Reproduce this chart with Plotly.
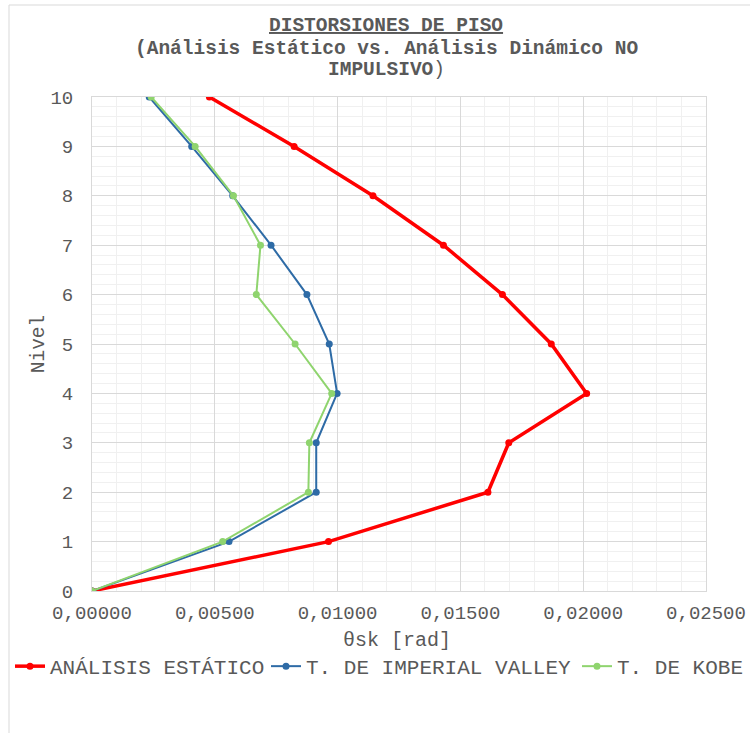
import plotly.graph_objects as go

niveles = [0, 1, 2, 3, 4, 5, 6, 7, 8, 9, 10]
estatico = [0.0, 0.00963, 0.01612, 0.01697, 0.02014, 0.01870, 0.01671, 0.01431, 0.01144, 0.00823, 0.00478]
imperial = [0.0, 0.00558, 0.00913, 0.00913, 0.00998, 0.00966, 0.00875, 0.00729, 0.00573, 0.00406, 0.00233]
kobe = [0.0, 0.00532, 0.00881, 0.00885, 0.00976, 0.00827, 0.00669, 0.00686, 0.00576, 0.00420, 0.00241]

names = ["ANÁLISIS ESTÁTICO", "T. DE IMPERIAL VALLEY", "T. DE KOBE"]
colors = ["#FF0000", "#2E6BA6", "#8FD46E"]
title_lines = ["<b><u>DISTORSIONES DE PISO</u></b>",
               "<b>(Análisis Estático vs. Análisis Dinámico NO</b>",
               "<b>IMPULSIVO</b>)"]
x_title = "θsk [rad]"

FONT = "Liberation Mono, Courier New, monospace"
GRAY = "#595959"
W, H = 750, 733
L, R, T, B = 92, 44, 97, 142
PW, PH = W - L - R, H - T - B

fig = go.Figure()
fig.add_trace(go.Scatter(x=estatico, y=niveles, name=names[0], mode="lines+markers", legend="legend",
                         line=dict(color=colors[0], width=3.5), marker=dict(size=7, color=colors[0])))
fig.add_trace(go.Scatter(x=imperial, y=niveles, name=names[1], mode="lines+markers", legend="legend2",
                         line=dict(color=colors[1], width=2), marker=dict(size=7, color=colors[1])))
fig.add_trace(go.Scatter(x=kobe, y=niveles, name=names[2], mode="lines+markers", legend="legend3",
                         line=dict(color=colors[2], width=2), marker=dict(size=7, color=colors[2])))

def leg(xpx):
    return dict(orientation="h", xref="container", yref="container",
                x=xpx / W, xanchor="left", y=1 - 646 / H, yanchor="top",
                font=dict(size=21, color=GRAY, family=FONT), itemwidth=30,
                bgcolor="rgba(0,0,0,0)")

fig.update_layout(
    width=W, height=H,
    margin=dict(l=L, r=R, t=T, b=B),
    paper_bgcolor="white", plot_bgcolor="white",
    separators=",.",
    font=dict(family=FONT, color=GRAY, size=19),
    xaxis=dict(
        range=[0, 0.025], dtick=0.005, tick0=0, tickformat=".5f",
        showgrid=True, gridcolor="#D9D9D9", gridwidth=1,
        minor=dict(dtick=0.001, showgrid=True, gridcolor="#F0F0F0", gridwidth=1),
        showline=True, linecolor="#D9D9D9", mirror=True, zeroline=False,
        ticks="outside", ticklen=4, tickcolor="rgba(0,0,0,0)",
        tickfont=dict(size=19, color=GRAY),
        automargin=False,
    ),
    yaxis=dict(
        range=[0, 10], dtick=1, tick0=0,
        showgrid=True, gridcolor="#D9D9D9", gridwidth=1,
        minor=dict(dtick=0.2, showgrid=True, gridcolor="#F0F0F0", gridwidth=1),
        showline=True, linecolor="#D9D9D9", mirror=True, zeroline=False,
        ticks="outside", ticklen=14, tickcolor="rgba(0,0,0,0)",
        tickfont=dict(size=19, color=GRAY),
        automargin=False,
        title=dict(text="Nivel", font=dict(size=19.5, color=GRAY), standoff=0),
    ),
    legend=leg(10), legend2=leg(266), legend3=leg(577),
    showlegend=True,
)

for txt, ypx in zip(title_lines, [26, 49, 70]):
    fig.add_annotation(text=txt, xref="paper", yref="paper",
                       x=(386 - L) / PW, y=(H - B - ypx) / PH,
                       xanchor="center", yanchor="middle", showarrow=False,
                       font=dict(family=FONT, size=19.5, color=GRAY))

fig.add_annotation(text=x_title, xref="paper", yref="paper",
                   x=(397 - L) / PW, y=(H - B - 640) / PH,
                   xanchor="center", yanchor="middle", showarrow=False,
                   font=dict(family=FONT, size=20, color=GRAY))

fig.add_shape(type="rect", xref="paper", yref="paper",
              x0=(9 - L) / PW, x1=1.2, y0=-0.6, y1=(H - B - 5) / PH,
              line=dict(color="#D9D9D9", width=1), fillcolor="rgba(0,0,0,0)", layer="below")

fig.write_html("out.html", config={"displayModeBar": False},
               post_script="document.body.style.margin='0';")
